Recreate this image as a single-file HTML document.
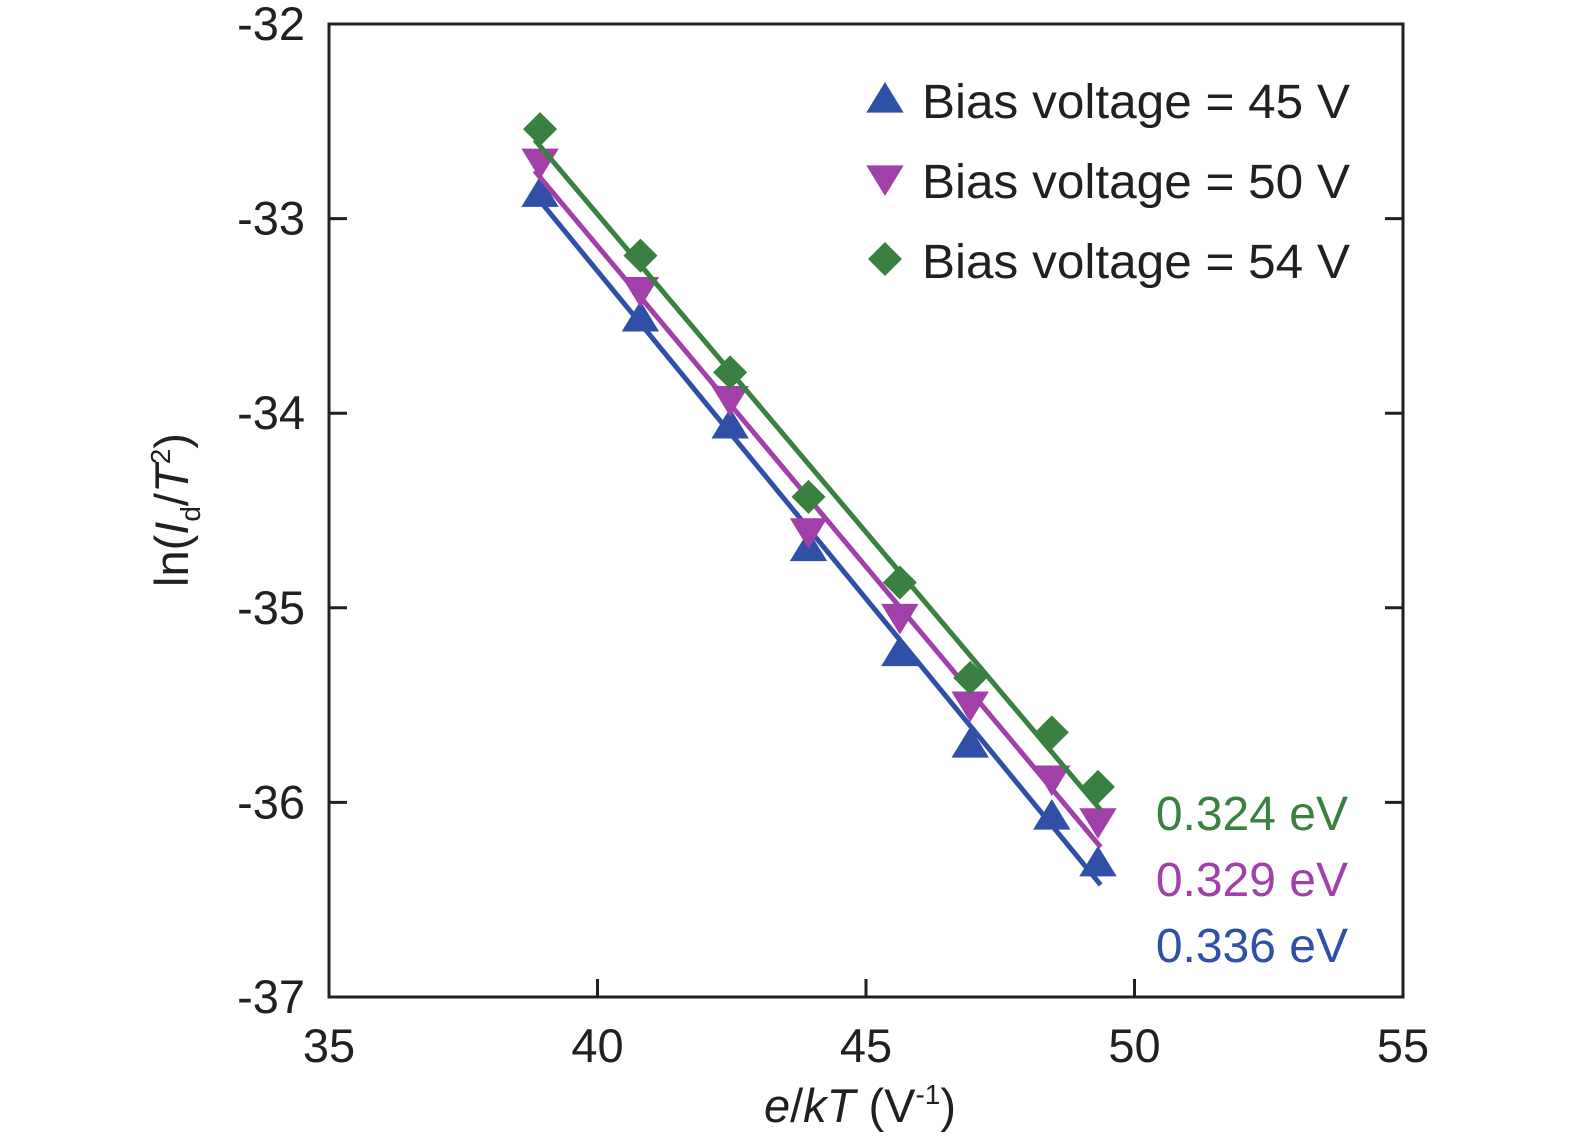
<!DOCTYPE html>
<html><head><meta charset="utf-8"><style>
body{margin:0;background:#fff}
svg text{font-family:"Liberation Sans",sans-serif;fill:#231f20}
</style></head><body>
<svg id="chart" width="1575" height="1141" xmlns="http://www.w3.org/2000/svg"></svg>
<script>
const xTicks=[35,40,45,50,55];
const yTicks=[-32,-33,-34,-35,-36,-37];
const xs=[38.93,40.8,42.47,43.93,45.63,46.94,48.46,49.32];
const blue=[-32.87,-33.51,-34.06,-34.69,-35.23,-35.7,-36.07,-36.31];
const magenta=[-32.71,-33.37,-33.93,-34.61,-35.05,-35.5,-35.88,-36.1];
const green=[-32.54,-33.19,-33.79,-34.43,-34.87,-35.36,-35.64,-35.92];
const seriesNames=["Bias voltage = 45 V","Bias voltage = 50 V","Bias voltage = 54 V"];
const energies=["0.336 eV","0.329 eV","0.324 eV"];
const NS="http://www.w3.org/2000/svg";
const svg=document.getElementById('chart');
const X0=329,X1=1403,Y0=24,Y1=997;
const sx=v=>X0+(v-35)/20*(X1-X0);
const sy=v=>Y0+(-32-v)/5*(Y1-Y0);
function mk(t,a,p){const e=document.createElementNS(NS,t);for(const k in a)e.setAttribute(k,a[k]);(p||svg).appendChild(e);return e;}
const frame=mk('rect',{x:X0,y:Y0,width:X1-X0,height:Y1-Y0,fill:'none',stroke:'#231f20','stroke-width':3});


xTicks.forEach(t=>{
  const l=mk('line',{x1:sx(t),x2:sx(t),y1:Y1,y2:Y1-18,stroke:'#231f20','stroke-width':3});
  
  
  const tx=mk('text',{x:sx(t),y:1062,'font-size':47,'text-anchor':'middle'});tx.textContent=t;
  
  
});
yTicks.forEach(t=>{
  [[X0,X0+18],[X1,X1-18]].forEach(p=>{
    const l=mk('line',{x1:p[0],x2:p[1],y1:sy(t),y2:sy(t),stroke:'#231f20','stroke-width':3});
    
    
  });
  const tx=mk('text',{x:305,y:sy(t)+16,'font-size':47,'text-anchor':'end'});tx.textContent=t;
  
  
});
const xt=mk('text',{x:860,y:1122,'font-size':47,'text-anchor':'middle'});
xt.innerHTML='<tspan font-style="italic">e</tspan>/<tspan font-style="italic">kT</tspan> (V<tspan font-size="28" dy="-18">-1</tspan><tspan dy="18">)</tspan>';


const yt=mk('text',{x:0,y:0,'font-size':47,'text-anchor':'middle',transform:'translate(188,510) rotate(-90)'});
yt.innerHTML='ln(<tspan font-style="italic">I</tspan><tspan font-size="28" dy="12">d</tspan><tspan dy="-12">/</tspan><tspan font-style="italic">T</tspan><tspan font-size="28" dy="-18">2</tspan><tspan dy="18">)</tspan>';


const cols=['#3050a8','#a040a8','#3a8040'];
const data=[blue,magenta,green];
function marker(k,cx,cy,c,r){
  if(k===0)return mk('polygon',{points:`${cx},${cy-r} ${cx-r*1.1},${cy+r*0.8} ${cx+r*1.1},${cy+r*0.8}`,fill:c});
  if(k===1)return mk('polygon',{points:`${cx},${cy+r} ${cx-r*1.1},${cy-r*0.8} ${cx+r*1.1},${cy-r*0.8}`,fill:c});
  return mk('polygon',{points:`${cx},${cy-r} ${cx+r},${cy} ${cx},${cy+r} ${cx-r},${cy}`,fill:c});
}
data.forEach((ys,k)=>{
  const n=xs.length;let mx=0,my=0;xs.forEach((x,i)=>{mx+=x;my+=ys[i];});mx/=n;my/=n;
  let num=0,den=0;xs.forEach((x,i)=>{num+=(x-mx)*(ys[i]-my);den+=(x-mx)**2;});
  const b=num/den,a=my-b*mx;const xa=xs[0]-0.1,xb=xs[n-1]+0.05;
  const l=mk('line',{x1:sx(xa),y1:sy(a+b*xa),x2:sx(xb),y2:sy(a+b*xb),stroke:cols[k],'stroke-width':5});
  
  
  xs.forEach((x,i)=>{
    const m=marker(k,sx(x),sy(ys[i]),cols[k],17);
    
    
  });
  const ly=101+k*80;
  const lm=marker(k,885,ly-2,cols[k],17);
  
  
  const lt=mk('text',{x:922,y:ly+17,'font-size':48,textLength:428,lengthAdjust:'spacingAndGlyphs'});lt.textContent=seriesNames[k];
  
  
  const et=mk('text',{x:1348,y:[962,896,830][k],'font-size':48,'text-anchor':'end',style:'fill:'+cols[k]});
  et.textContent=energies[k];
  
  
});
</script>
</body></html>
